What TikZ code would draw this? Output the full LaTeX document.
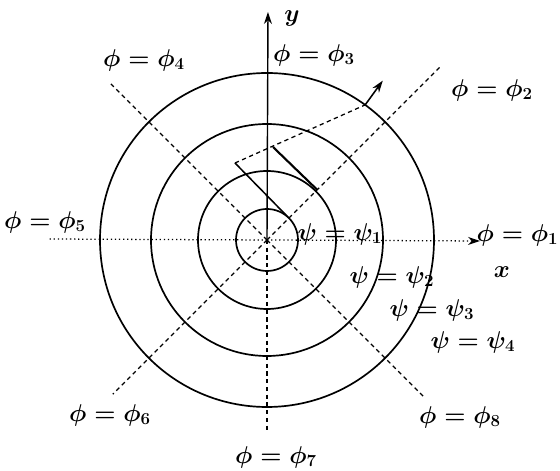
\documentclass[tikz,border=0pt]{standalone}
\usepackage{amsmath}
\usepackage{bm}
\usetikzlibrary{arrows.meta,calc}
\tikzset{
  ring/.style={draw=black, line width=1.2pt},
  rayline/.style={draw=black, dash pattern=on 3pt off 2.5pt, line width=0.9pt},
  axisline/.style={draw=black, dotted, line width=0.9pt},
  axarr/.style={-{Stealth[length=3mm,width=2mm]}},
  lab/.style={font=\LARGE\boldmath, inner sep=1pt},
}

\begin{document}
\begin{tikzpicture}[x=0.025cm,y=0.025cm]
\useasboundingbox (-267,-231) rectangle (293,240);
\coordinate (O) at (0,0);
% flow lines psi = const
\foreach \r/\n in {31/1,69/2,116/3,167/4}
  \draw[ring] (O) circle (\r);
% end points of the rays
\coordinate (e1) at (213,-1);
\coordinate (e2) at (45:245);
\coordinate (e3) at (1,228);
\coordinate (e4) at (135:223);
\coordinate (e5) at (-219,1);
\coordinate (e6) at (225:218);
\coordinate (e7) at (0,-193);
\coordinate (e8) at (-45:222);
% axes
\draw[axisline, axarr] (O) -- (e1);
\draw[axisline] (O) -- (e5);
\draw[line width=1pt, axarr] (O) -- (e3);
% potential lines phi = const
\foreach \k in {2,4,6,7,8}
  \draw[rayline] (O) -- (e\k);
% element near phi_2
\coordinate (A) at (-32,77);
\coordinate (T) at (45:31);
\coordinate (B) at (6,93);
\coordinate (C) at (45:71);
\coordinate (P) at (54:167);
\coordinate (Q) at (54:197);
\draw[line width=1.1pt] (A) -- (T);
\draw[line width=1.5pt] (B) -- (C);
\draw[rayline] (A) -- (P);
\draw[line width=1.1pt, axarr] (P) -- (Q);
% labels
\node[lab] (ly) at (25,222) {$y$};
\node[lab] (lx) at (235,-32) {$x$};
\node[lab, anchor=east] (p1) at (293,5) {$\phi=\phi_1$};
\node[lab] (p2) at (225,150) {$\phi=\phi_2$};
\node[lab] (p3) at (47,185) {$\phi=\phi_3$};
\node[lab] (p4) at (-123,180) {$\phi=\phi_4$};
\node[lab] (p5) at (-222,18) {$\phi=\phi_5$};
\node[lab] (p6) at (-157,-175) {$\phi=\phi_6$};
\node[lab] (p7) at (9,-217) {$\phi=\phi_7$};
\node[lab] (p8) at (193,-177) {$\phi=\phi_8$};
\node[lab] (s1) at (73,6) {$\psi=\psi_1$};
\node[lab] (s2) at (125,-37) {$\psi=\psi_2$};
\node[lab] (s3) at (165,-70) {$\psi=\psi_3$};
\node[lab] (s4) at (206,-102) {$\psi=\psi_4$};
\end{tikzpicture}
\end{document}
